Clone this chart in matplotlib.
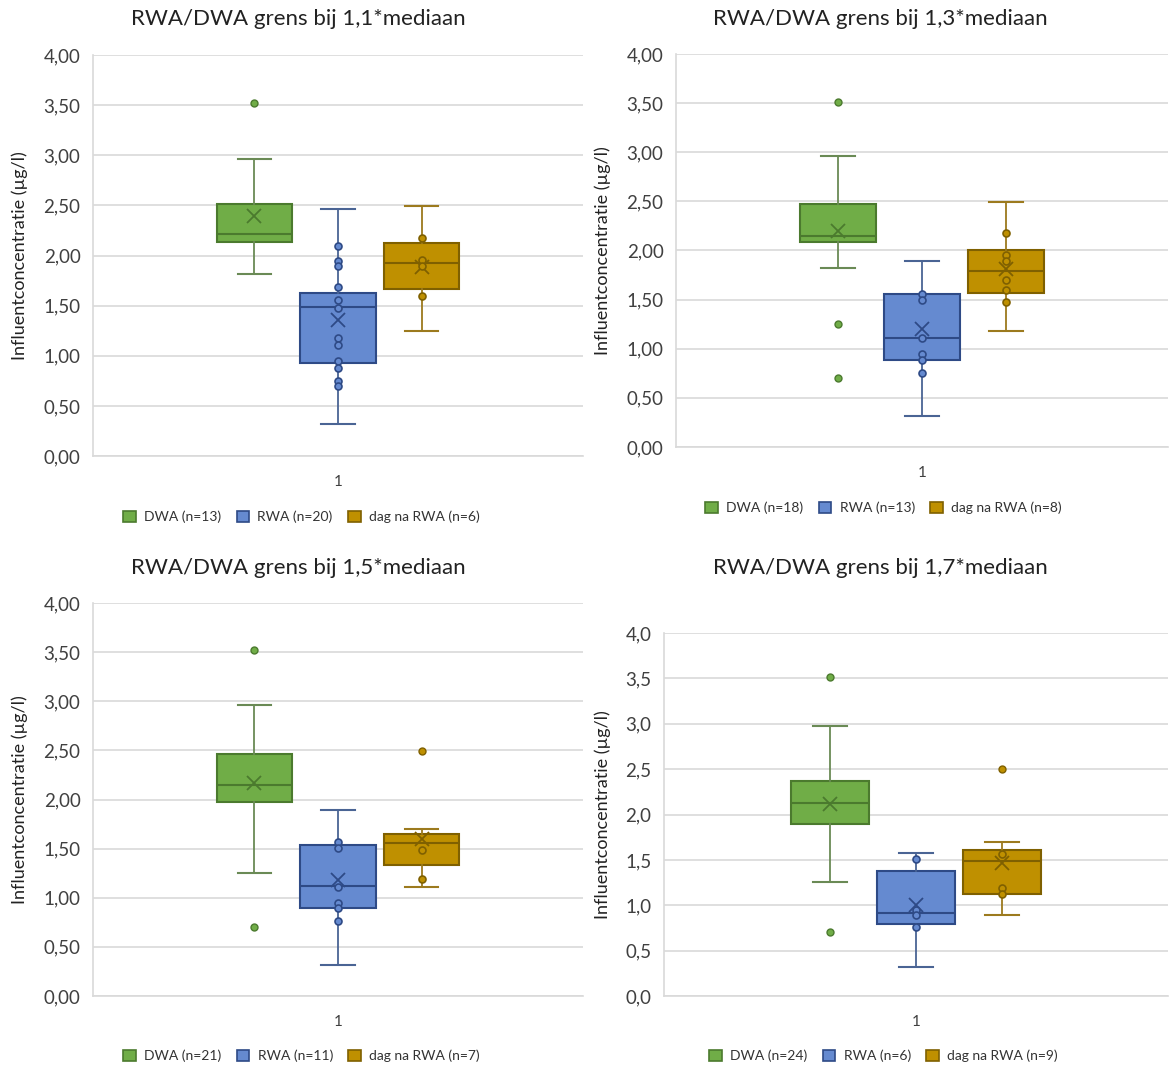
import matplotlib
matplotlib.use("Agg")
import matplotlib.pyplot as plt
from matplotlib.patches import Patch
from matplotlib.ticker import FuncFormatter

plt.rcParams['font.family'] = ['Lato', 'DejaVu Sans']

# Data (per panel: DWA, RWA, dag na RWA)
titles = ["RWA/DWA grens bij 1,1*mediaan", "RWA/DWA grens bij 1,3*mediaan",
          "RWA/DWA grens bij 1,5*mediaan", "RWA/DWA grens bij 1,7*mediaan"]
series_names = ["DWA", "RWA", "dag na RWA"]
n_counts = [[13, 20, 6], [18, 13, 8], [21, 11, 7], [24, 6, 9]]

q1 = [[2.13, 0.93, 1.67], [2.09, 0.89, 1.57], [1.97, 0.90, 1.33], [1.90, 0.79, 1.12]]
med = [[2.21, 1.49, 1.93], [2.15, 1.11, 1.79], [2.15, 1.12, 1.56], [2.13, 0.92, 1.49]]
q3 = [[2.51, 1.63, 2.12], [2.47, 1.56, 2.00], [2.46, 1.54, 1.65], [2.37, 1.38, 1.61]]
whislo = [[1.82, 0.32, 1.25], [1.82, 0.32, 1.18], [1.25, 0.32, 1.11], [1.26, 0.32, 0.89]]
whishi = [[2.96, 2.46, 2.49], [2.96, 1.89, 2.49], [2.96, 1.89, 1.70], [2.97, 1.58, 1.70]]
means = [[2.39, 1.36, 1.89], [2.20, 1.20, 1.81], [2.17, 1.18, 1.60], [2.12, 1.00, 1.47]]

outliers = [
    [[3.52], [], []],
    [[3.51, 1.25, 0.70], [], []],
    [[3.52, 0.70], [], [2.49]],
    [[3.52, 0.70], [], [2.50]],
]
inner_points = [
    [[], [2.09, 1.95, 1.90, 1.69, 1.56, 1.48, 1.18, 1.11, 0.95, 0.88, 0.75, 0.70],
     [2.17, 1.96, 1.90, 1.60]],
    [[], [1.56, 1.50, 1.11, 0.95, 0.89, 0.75],
     [2.18, 1.95, 1.89, 1.70, 1.60, 1.48]],
    [[], [1.57, 1.51, 1.11, 0.95, 0.90, 0.76],
     [1.49, 1.19]],
    [[], [1.51, 0.95, 0.89, 0.76],
     [1.57, 1.19, 1.12]],
]

fills = ["#70AD47", "#658AD0", "#BF9000"]
edges = ["#4B7A2E", "#2E4A86", "#7F6000"]
whisker_cols = ["#6A8A55", "#4A6494", "#9C7A1E"]
positions = [-1, 0, 1]

W, H = 1169, 1066
fig = plt.figure(figsize=(W / 100, H / 100), dpi=100)

# axes rectangles in pixels: left, top, right, bottom
rects = [(93, 55, 583, 456), (676, 54, 1168, 447),
         (93, 603, 583, 996), (664, 633, 1168, 996)]
title_x = [298, 880, 298, 880]
title_y = [19, 19, 568, 568]
legend_y = [517, 508, 1056, 1056]
ylabel_x = [20, 603, 20, 603]
tick_fmt = ["{:.2f}", "{:.2f}", "{:.2f}", "{:.1f}"]

for p in range(4):
    l, t, r, b = rects[p]
    ax = fig.add_axes([l / W, (H - b) / H, (r - l) / W, (b - t) / H])
    for s in range(3):
        stats = [dict(med=med[p][s], q1=q1[p][s], q3=q3[p][s],
                      whislo=whislo[p][s], whishi=whishi[p][s],
                      mean=means[p][s], fliers=outliers[p][s])]
        ax.bxp(stats, positions=[positions[s]], widths=0.9, patch_artist=True,
               showmeans=True, manage_ticks=False,
               boxprops=dict(facecolor=fills[s], edgecolor=edges[s], linewidth=1.5),
               medianprops=dict(color=edges[s], linewidth=1.5),
               whiskerprops=dict(color=whisker_cols[s], linewidth=1.3),
               capprops=dict(color=whisker_cols[s], linewidth=1.5),
               capwidths=0.4,
               meanprops=dict(marker="x", markeredgecolor=edges[s], markersize=10,
                              markeredgewidth=1.3),
               flierprops=dict(marker="o", markerfacecolor=fills[s],
                               markeredgecolor=edges[s], markersize=5,
                               markeredgewidth=1))
        pts = inner_points[p][s]
        if pts:
            ax.plot([positions[s]] * len(pts), pts, linestyle="none", marker="o",
                    markerfacecolor=fills[s], markeredgecolor=edges[s],
                    markersize=5, markeredgewidth=1.2, zorder=4)

    ax.set_xlim(-2.93, 2.93)
    ax.set_ylim(0, 4)
    ax.set_yticks([i * 0.5 for i in range(9)])
    fmt = tick_fmt[p]
    ax.yaxis.set_major_formatter(FuncFormatter(lambda v, pos, f=fmt: f.format(v).replace(".", ",")))
    ax.set_xticks([0])
    ax.set_xticklabels(["1"])
    ax.tick_params(axis="both", length=0, colors="#404040")
    ax.tick_params(axis="y", labelsize=13.5, pad=9)
    ax.tick_params(axis="x", labelsize=11, pad=14)
    ax.grid(axis="y", color="#D9D9D9", linewidth=1.2)
    ax.set_axisbelow(True)
    for side in ["top", "right"]:
        ax.spines[side].set_visible(False)
    for side in ["left", "bottom"]:
        ax.spines[side].set_color("#D9D9D9")
        ax.spines[side].set_linewidth(1.2)

    fig.text(title_x[p] / W, 1 - title_y[p] / H, titles[p], ha="center", va="center",
             fontsize=16, color="#222222")
    fig.text(ylabel_x[p] / W, 1 - (t + b) / 2 / H, "Influentconcentratie (µg/l)",
             rotation=90, ha="center", va="center", fontsize=13, color="#222222")

    handles = [Patch(facecolor=fills[s], edgecolor=edges[s], linewidth=1.2,
                     label="%s (n=%d)" % (series_names[s], n_counts[p][s])) for s in range(3)]
    fig.legend(handles=handles, loc="center", ncol=3, frameon=False,
               bbox_to_anchor=(title_x[p] / W + 0.003, 1 - legend_y[p] / H),
               fontsize=10, handlelength=0.9, handleheight=0.9,
               handletextpad=0.6, columnspacing=1.1, labelcolor="#333333")

fig.savefig("out.png", dpi=100)
